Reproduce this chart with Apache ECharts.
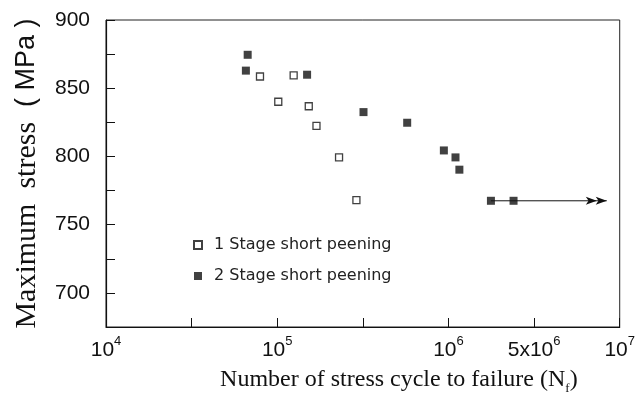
<!DOCTYPE html>
<html>
<head>
<meta charset="utf-8">
<script src="https://cdn.jsdelivr.net/npm/echarts@6/dist/echarts.min.js"></script>
<style>
  html, body { margin: 0; padding: 0; background: #fff; }
  #chart { width: 638px; height: 400px; }
</style>
</head>
<body>
<div id="chart"></div>
<script>
// cycles to failure and max stress (MPa)
const stage1Cycles = [79300, 124700, 101400, 152800, 169500, 229600, 290000];
const stage1Stress = [858.6, 859.4, 840.1, 836.8, 822.4, 799.3, 768];
const stage2Cycles = [67200, 65600, 149400, 319000, 574000, 940000, 1099000, 1158000, 1770000, 2399000];
const stage2Stress = [874.5, 862.9, 859.9, 832.5, 824.7, 804.4, 799.3, 790.3, 767.5, 767.5];
// run-out arrow (no failure)
const runoutCycles = [1770000, 7350000, 8400000];
const runoutStress = [767.5, 767.5, 767.5];

// x ticks live in log10 space
const xTickExp = [4, 5, 6, 6.5, 7];
const xTickBase = ['10', '10', '10', '5x10', '10'];
const xTickPow = ['4', '5', '6', '6', '7'];
const yLabelStep = 50;

const ink = '#111';
const toLog = n => Math.log10(n);

const chart = echarts.init(document.getElementById('chart'));

chart.setOption({
    animation: false,
    backgroundColor: '#fff',
    grid: { left: 106, right: 17, top: 20, bottom: 73, show: true, borderColor: '#222', borderWidth: 1 },
    legend: {
        data: ['1 Stage short peening', '2 Stage short peening'],
        orient: 'vertical',
        left: 188,
        top: 232,
        itemWidth: 8,
        itemHeight: 8,
        itemGap: 15,
        textStyle: { fontFamily: 'DejaVu Sans', fontSize: 16, color: '#222', padding: [0, 0, 0, 7] }
    },
    xAxis: {
        type: 'value',
        min: 4,
        max: 7,
        interval: 0.5,
        axisLine: { lineStyle: { color: ink, width: 1.2 } },
        axisTick: { inside: true, length: 9, lineStyle: { color: ink } },
        splitLine: { show: false },
        axisLabel: {
            margin: 8,
            color: ink,
            formatter: v => {
                const i = xTickExp.indexOf(v);
                return i < 0 ? '' : '{b|' + xTickBase[i] + '}{s|' + xTickPow[i] + '}';
            },
            rich: {
                b: { fontFamily: 'Liberation Sans', fontSize: 21, lineHeight: 30, color: ink },
                s: { fontFamily: 'Liberation Sans', fontSize: 13, lineHeight: 13, verticalAlign: 'top', color: ink }
            }
        },
        name: '{t|Number of stress cycle to failure (N}{f|f}{t|)}',
        nameLocation: 'middle',
        nameGap: 38,
        nameTextStyle: {
            padding: [0, 0, 0, 72],
            rich: {
                t: { fontFamily: 'Liberation Serif', fontSize: 24, lineHeight: 30, color: ink },
                f: { fontFamily: 'Liberation Serif', fontSize: 13, lineHeight: 16, verticalAlign: 'bottom', color: ink }
            }
        }
    },
    yAxis: {
        type: 'value',
        min: 675,
        max: 900,
        interval: 25,
        axisLine: { show: true, lineStyle: { color: ink, width: 1.2 } },
        axisTick: { show: true, inside: true, length: 9, lineStyle: { color: ink } },
        splitLine: { show: false },
        axisLabel: {
            margin: 16,
            fontFamily: 'Liberation Sans',
            fontSize: 21,
            color: ink,
            formatter: v => (v % yLabelStep === 0 ? String(v) : '')
        },
        name: '{a|Maximum  stress}{b|  ( MPa )}',
        nameLocation: 'middle',
        nameGap: 64,
        nameTextStyle: {
            rich: {
                a: { fontFamily: 'Liberation Serif', fontSize: 30, color: ink },
                b: { fontFamily: 'Liberation Sans', fontSize: 27, color: ink }
            }
        }
    },
    series: [
        {
            name: '1 Stage short peening',
            type: 'scatter',
            symbol: 'rect',
            symbolSize: 7,
            itemStyle: { color: '#fff', borderColor: ink, borderWidth: 1.3 },
            data: stage1Cycles.map((n, i) => [toLog(n), stage1Stress[i]])
        },
        {
            name: '2 Stage short peening',
            type: 'scatter',
            symbol: 'rect',
            symbolSize: 8,
            itemStyle: { color: ink },
            data: stage2Cycles.map((n, i) => [toLog(n), stage2Stress[i]])
        },
        {
            name: 'runout',
            type: 'line',
            z: 1,
            showAllSymbol: true,
            lineStyle: { color: ink, width: 1 },
            itemStyle: { color: ink },
            data: runoutCycles.map((n, i) => ({
                value: [toLog(n), runoutStress[i]],
                symbol: i === 0 ? 'none' : 'arrow',
                symbolSize: [6, 11],
                symbolRotate: -90
            }))
        }
    ]
});

window.addEventListener('resize', () => chart.resize());
</script>
</body>
</html>
